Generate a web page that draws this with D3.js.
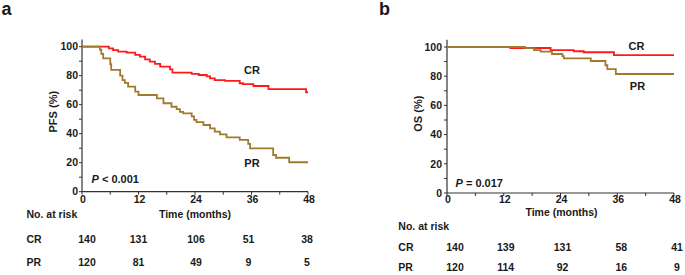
<!DOCTYPE html>
<html><head><meta charset="utf-8">
<script src="https://cdn.jsdelivr.net/npm/d3@7"></script>
<style>
body{margin:0;background:#fff;}
svg text{font-family:"Liberation Sans",Arial,sans-serif;font-weight:bold;fill:#1a1a1a;}
</style></head><body>
<svg id="c" width="685" height="275"></svg>
<script>
// ---- data ----
const timeTicks = [0, 12, 24, 36, 48];
const yTicks = [0, 20, 40, 60, 80, 100];
// Panel a: PFS  [month, percent]
const pfsCR = [[0,100],[5.7,98.9],[6.6,97.7],[7.7,96.6],[9.5,95.9],[11.3,94.3],[12.3,93.1],[13.4,91.3],[14.4,89.7],[15.5,88.1],[16.6,86.2],[18.7,84.3],[19.2,82.1],[23.3,81.2],[24.8,80.5],[26.5,79.6],[27.2,78.2],[28.2,77.0],[30.4,76.5],[33.5,74.8],[34.2,74.2],[36.4,72.9],[39.6,70.8],[47.6,68.6]];
const pfsPR = [[0,100],[3.8,98],[4.1,95],[4.5,92],[6.0,88],[6.2,84],[8.1,80],[8.6,77],[9.1,75],[9.8,72.4],[11.3,69],[12.0,66.7],[15.9,64.4],[17.3,61],[19.0,58.6],[20.1,57],[20.8,55],[21.5,54],[23.3,52],[23.8,49.5],[24.3,48],[25.8,46],[27.2,43.7],[28.2,41.4],[29.3,39.5],[30.7,37.5],[33.5,35.7],[35.3,33],[35.7,29.9],[40.6,25.3],[41.2,23.4],[44.0,20.3]];
// Panel b: OS
const osCR = [[0,100],[13.4,99.3],[21.9,97.9],[26.8,97.1],[28.9,96.4],[35.3,94.5]];
const osPR = [[0,100],[16.5,99.2],[18.4,97.9],[19.8,96.8],[22.2,95.2],[24.4,93.7],[24.7,92.2],[30.4,90.4],[33.5,87.5],[33.9,84.9],[35.7,81.5]];
const endTime = 48;
// numbers at risk
const riskTimes = [0, 12, 24, 36, 48];
const riskA_CR = [140, 131, 106, 51, 38];
const riskA_PR = [120, 81, 49, 9, 5];
const riskB_CR = [140, 139, 131, 58, 41];
const riskB_PR = [120, 114, 92, 16, 9];
const groups = ["CR", "PR"];
const colors = {CR: "#ff1a1a", PR: "#a07a2e"};

const svg = d3.select("#c");

function panel(cfg) {
  const g = svg.append("g");
  const x = d3.scaleLinear().domain([0, 48]).range([cfg.x0, cfg.x1]);
  const y = d3.scaleLinear().domain([0, 100]).range([cfg.y0, cfg.y1]);
  const yTop = y(105);

  // y axis
  const ya = g.append("g").attr("transform", `translate(${cfg.x0},0)`);
  ya.append("line").attr("x1",0).attr("x2",0).attr("y1",yTop).attr("y2",cfg.y0).attr("stroke","#333").attr("stroke-width",1.2);
  ya.selectAll("line.mt").data(d3.range(0, 101, 10)).join("line")
    .attr("x1",-3).attr("x2",0).attr("y1",d=>y(d)).attr("y2",d=>y(d)).attr("stroke","#333").attr("stroke-width",1);
  ya.selectAll("text").data(yTicks).join("text")
    .attr("x", -cfg.ylabPad).attr("y", d=>y(d)).attr("dy","0.36em")
    .attr("text-anchor","end").style("font-size","10.5px").text(d=>d);

  // x axis
  const xa = g.append("g").attr("transform", `translate(0,${cfg.y0})`);
  xa.append("line").attr("x1",cfg.x0).attr("x2",cfg.x1).attr("y1",0).attr("y2",0).attr("stroke","#333").attr("stroke-width",1.2);
  xa.selectAll("line.mt").data(d3.range(0, 49, 6)).join("line")
    .attr("x1",d=>x(d)).attr("x2",d=>x(d)).attr("y1",0).attr("y2",3).attr("stroke","#333").attr("stroke-width",1);
  xa.selectAll("text").data(timeTicks).join("text")
    .attr("x", d=>x(d)+1).attr("y", cfg.xlabY - cfg.y0)
    .attr("text-anchor","middle").style("font-size","10.5px").text(d=>d);

  // curves
  const line = d3.line().x(d=>x(d[0])).y(d=>y(d[1])).curve(d3.curveStepAfter);
  cfg.series.forEach((s, i) => {
    const pts = s.slice();
    pts.push([endTime, s[s.length-1][1]]);
    g.append("path").attr("d", line(pts)).attr("fill","none")
      .attr("stroke", colors[groups[i]]).attr("stroke-width", 1.8);
  });

  // labels
  g.append("text").attr("x", cfg.crLab[0]).attr("y", cfg.crLab[1]).attr("text-anchor","middle").style("font-size","11px").text("CR");
  g.append("text").attr("x", cfg.prLab[0]).attr("y", cfg.prLab[1]).attr("text-anchor","middle").style("font-size","11px").text("PR");
  const pt = g.append("text").attr("x", cfg.pLab[0]).attr("y", cfg.pLab[1]).style("font-size","11px");
  pt.append("tspan").style("font-style","italic").text("P");
  pt.append("tspan").text(cfg.pText);

  // y title
  g.append("text").attr("transform", `translate(${cfg.ytitle[0]},${cfg.ytitle[1]}) rotate(-90)`)
    .attr("text-anchor","middle").style("font-size","11px").text(cfg.ytitleText);
  // x title
  g.append("text").attr("x", cfg.xtitle[0]).attr("y", cfg.xtitle[1]).attr("text-anchor","middle").style("font-size","10.5px").text("Time (months)");
  // panel letter
  g.append("text").attr("x", cfg.letter[0]).attr("y", cfg.letter[1]).style("font-size","18px").text(cfg.letterText);

  // risk table
  g.append("text").attr("x", cfg.tableX).attr("y", cfg.riskHead).style("font-size","10.5px").text("No. at risk");
  [cfg.riskCR, cfg.riskPR].forEach((row, r) => {
    const yy = cfg.rowY[r];
    g.append("text").attr("x", cfg.tableX).attr("y", yy).style("font-size","10.5px").text(groups[r]);
    g.selectAll(null).data(row).join("text")
      .attr("x", (d,i)=>x(riskTimes[i]) + cfg.colOff[i]).attr("y", yy)
      .attr("text-anchor","middle").style("font-size","10.5px").text(d=>d);
  });
}

panel({
  x0: 82, x1: 308, y0: 191.7, y1: 46.7, ylabPad: 4, xlabY: 203.5,
  series: [pfsCR, pfsPR],
  crLab: [252, 73.5], prLab: [252, 167], pLab: [91.5, 183], pText: " < 0.001",
  ytitle: [57, 111.7], ytitleText: "PFS (%)",
  xtitle: [195, 218], letter: [1.5, 15], letterText: "a",
  tableX: 26.5, riskHead: 218, rowY: [242.5, 266],
  riskCR: riskA_CR, riskPR: riskA_PR, colOff: [5, 0, 1, -3, -1]
});
panel({
  x0: 447, x1: 674, y0: 193, y1: 47, ylabPad: 5, xlabY: 203,
  series: [osCR, osPR],
  crLab: [636.5, 49.5], prLab: [637.5, 90], pLab: [455.5, 186.5], pText: " = 0.017",
  ytitle: [421.5, 113.7], ytitleText: "OS (%)",
  xtitle: [561.5, 216], letter: [379, 15], letterText: "b",
  tableX: 398.3, riskHead: 229.5, rowY: [250.5, 271],
  riskCR: riskB_CR, riskPR: riskB_PR, colOff: [8, 2, 2, 4, 3]
});
</script>
</body></html>
